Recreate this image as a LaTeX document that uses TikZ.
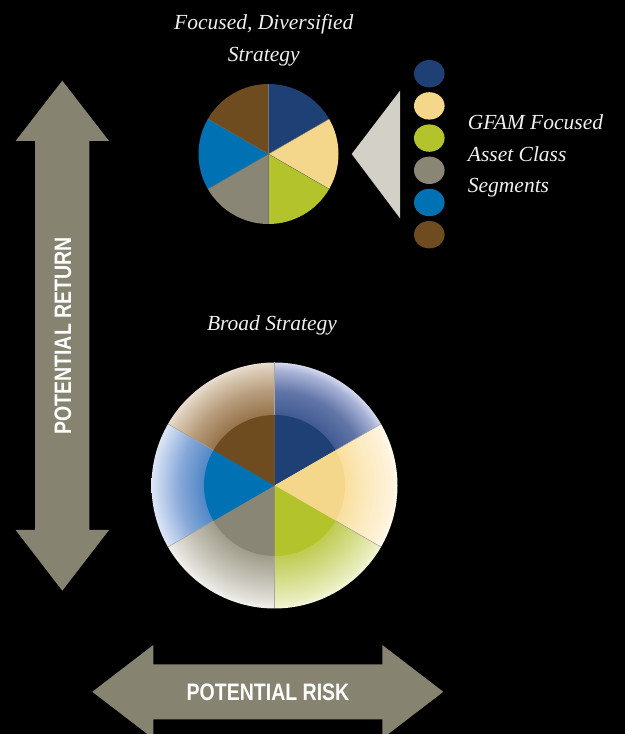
\documentclass[tikz,border=0pt]{standalone}
\usepackage{fontspec}
\setmainfont{Liberation Serif}
\newfontfamily\condsans[FakeStretch=0.82]{Liberation Sans}
\definecolor{cnavy}{HTML}{1F4074}
\definecolor{cyellow}{HTML}{F5D78B}
\definecolor{cgreen}{HTML}{B3C32B}
\definecolor{cgray}{HTML}{8A8675}
\definecolor{cblue}{HTML}{0072B3}
\definecolor{cbrown}{HTML}{6F4C20}
\definecolor{navyIn}{HTML}{3F5A91}\definecolor{navyMid}{HTML}{6276A8}\definecolor{navyNear}{HTML}{A8B2D6}\definecolor{navyOut}{HTML}{D5D9EE}
\definecolor{yellowIn}{HTML}{F9DF9C}\definecolor{yellowMid}{HTML}{FCEBC2}\definecolor{yellowNear}{HTML}{FEF2D8}\definecolor{yellowOut}{HTML}{FFF9EC}
\definecolor{greenIn}{HTML}{BFCB50}\definecolor{greenMid}{HTML}{D5DD8A}\definecolor{greenNear}{HTML}{E8EDBB}\definecolor{greenOut}{HTML}{F3F6DA}
\definecolor{grayIn}{HTML}{9F9B8A}\definecolor{grayMid}{HTML}{C2C0B4}\definecolor{grayNear}{HTML}{E2E0D9}\definecolor{grayOut}{HTML}{F2F1EE}
\definecolor{blueIn}{HTML}{4F86C6}\definecolor{blueMid}{HTML}{86A8D8}\definecolor{blueNear}{HTML}{C4D4EE}\definecolor{blueOut}{HTML}{DCE5F5}
\definecolor{brownIn}{HTML}{957249}\definecolor{brownMid}{HTML}{B79C7C}\definecolor{brownNear}{HTML}{D9C8B2}\definecolor{brownOut}{HTML}{E8DDD0}
\definecolor{arrowgray}{HTML}{878371}
\definecolor{legendtri}{HTML}{D3D0C8}
\definecolor{textwhite}{HTML}{F0F0F0}
\pgfdeclareradialshading{ringnavy}{\pgfpoint{0bp}{0bp}}{color(0bp)=(navyIn); color(14.2bp)=(navyIn); color(19.3bp)=(navyMid); color(23.4bp)=(navyNear); color(25bp)=(navyOut); color(50bp)=(navyOut)}
\pgfdeclareradialshading{ringyellow}{\pgfpoint{0bp}{0bp}}{color(0bp)=(yellowIn); color(14.2bp)=(yellowIn); color(19.3bp)=(yellowMid); color(23.4bp)=(yellowNear); color(25bp)=(yellowOut); color(50bp)=(yellowOut)}
\pgfdeclareradialshading{ringgreen}{\pgfpoint{0bp}{0bp}}{color(0bp)=(greenIn); color(14.2bp)=(greenIn); color(19.3bp)=(greenMid); color(23.4bp)=(greenNear); color(25bp)=(greenOut); color(50bp)=(greenOut)}
\pgfdeclareradialshading{ringgray}{\pgfpoint{0bp}{0bp}}{color(0bp)=(grayIn); color(14.2bp)=(grayIn); color(19.3bp)=(grayMid); color(23.4bp)=(grayNear); color(25bp)=(grayOut); color(50bp)=(grayOut)}
\pgfdeclareradialshading{ringblue}{\pgfpoint{0bp}{0bp}}{color(0bp)=(blueIn); color(14.2bp)=(blueIn); color(19.3bp)=(blueMid); color(23.4bp)=(blueNear); color(25bp)=(blueOut); color(50bp)=(blueOut)}
\pgfdeclareradialshading{ringbrown}{\pgfpoint{0bp}{0bp}}{color(0bp)=(brownIn); color(14.2bp)=(brownIn); color(19.3bp)=(brownMid); color(23.4bp)=(brownNear); color(25bp)=(brownOut); color(50bp)=(brownOut)}
\tikzset{
  titletext/.style={text=textwhite, font=\fontsize{21.5}{25}\selectfont\itshape, inner sep=0pt, anchor=base},
  legendtext/.style={text=textwhite, font=\fontsize{21.5}{25}\selectfont\itshape, inner sep=0pt, anchor=base west},
  arrowtext/.style={text=white, font=\fontsize{23.8}{26}\selectfont\condsans\bfseries, inner sep=0pt, anchor=base},
  bigarrow/.style={fill=arrowgray},
  legenddot/.style={ellipse, minimum width=30.6pt, minimum height=27.4pt, inner sep=0pt},
  sliceline/.style={draw=black!55, line width=0.35pt},
  ringline/.style={draw=gray!70, line width=0.5pt}
}
\usetikzlibrary{shapes.geometric}
\begin{document}
\begin{tikzpicture}[x=1pt,y=1pt]
\fill[black] (0,0) rectangle (625,734);
\useasboundingbox (0,0) rectangle (625,734);
% coordinates
\coordinate (S) at (268.5,580);
\coordinate (B) at (274.5,248.5);
% vertical arrow
\fill[bigarrow] (62.3,653.3) -- (109,593) -- (89.4,593) -- (89.4,204) -- (109,204) -- (62.3,143.3)
  -- (15.6,204) -- (35.2,204) -- (35.2,593) -- (15.6,593) -- cycle;
\node[arrowtext, rotate=90] (ret) at (71,398) {POTENTIAL RETURN};
% horizontal arrow
\fill[bigarrow] (92.3,42.2) -- (153.3,89) -- (153.3,69.7) -- (382.3,69.7) -- (382.3,89) -- (443.3,42.2)
  -- (382.3,-4.6) -- (382.3,14.7) -- (153.3,14.7) -- (153.3,-4.6) -- cycle;
\node[arrowtext] (risk) at (268,33) {POTENTIAL RISK};
% small pie
\foreach \a/\c in {30/cnavy,-30/cyellow,-90/cgreen,-150/cgray,150/cblue,90/cbrown}{
  \fill[\c] (S) -- ++(\a:70) arc[start angle=\a, end angle=\a+60, radius=70] -- cycle;
}
\foreach \a in {30,90,150,210,270,330}{
  \draw[sliceline] (S) -- ++(\a:70);
}
% titles
\node[titletext] (t1) at (263.8,704) {Focused, Diversified};
\node[titletext] (t2) at (263.8,672.3) {Strategy};
\node[titletext] (t3) at (272,403) {Broad Strategy};
% legend
\fill[legendtri] (351.7,580) -- (400,643.3) -- (400,515.7) -- cycle;
\node[legenddot, fill=cnavy] (d1) at (429.3,660.3) {};
\node[legenddot, fill=cyellow] (d2) at (429.3,628.1) {};
\node[legenddot, fill=cgreen] (d3) at (429.3,595.9) {};
\node[legenddot, fill=cgray] (d4) at (429.3,563.7) {};
\node[legenddot, fill=cblue] (d5) at (429.3,531.5) {};
\node[legenddot, fill=cbrown] (d6) at (429.3,499.3) {};
\node[legendtext] (l1) at (467.7,604) {GFAM Focused};
\node[legendtext] (l2) at (467.7,572.3) {Asset Class};
\node[legendtext] (l3) at (467.7,541) {Segments};
% big pie rings
\foreach \a/\c in {30/navy,-30/yellow,-90/green,-150/gray,150/blue,90/brown}{
  \begin{scope}
    \clip (B) -- ++(\a:123) arc[start angle=\a, end angle=\a+60, radius=123] -- cycle;
    \shade[shading=ring\c] (B) circle (123);
  \end{scope}
}
\foreach \a in {30,90,150,210,270,330}{
  \draw[ringline] (B) ++(\a:70) -- ++(\a:53);
}
% big pie inner disk
\foreach \a/\c in {30/cnavy,-30/cyellow,-90/cgreen,-150/cgray,150/cblue,90/cbrown}{
  \fill[\c] (B) -- ++(\a:70.5) arc[start angle=\a, end angle=\a+60, radius=70.5] -- cycle;
}
\end{tikzpicture}
\end{document}
